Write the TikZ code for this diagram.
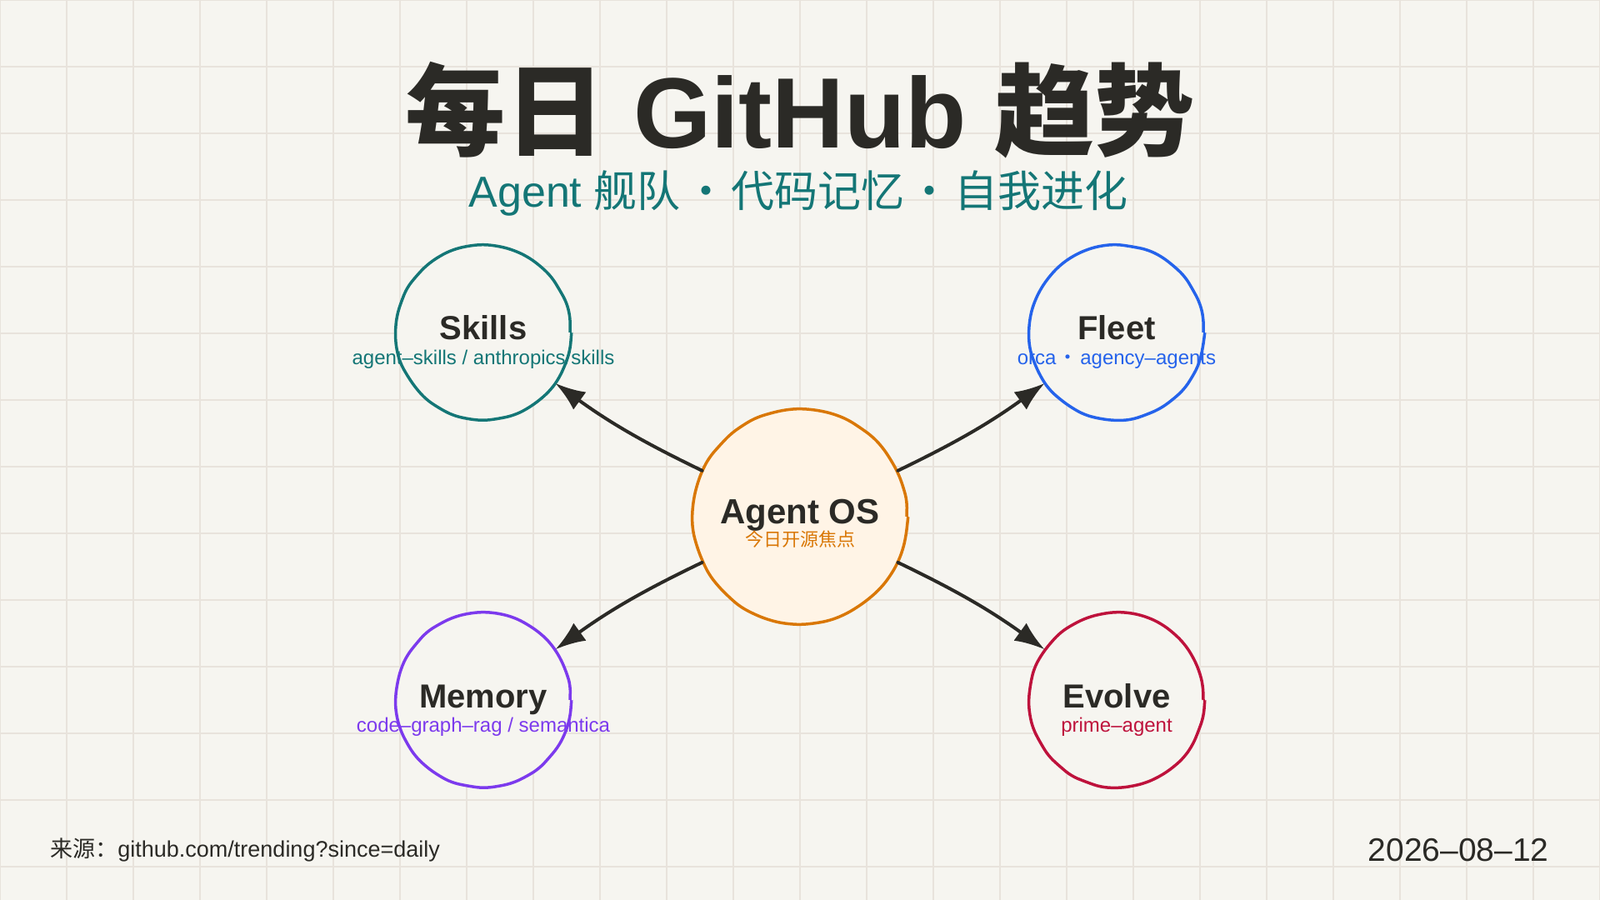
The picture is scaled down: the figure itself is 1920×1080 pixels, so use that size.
\documentclass[tikz,border=0pt]{standalone}
\usepackage{fontspec}
\setmainfont{Liberation Sans}
\newfontfamily\cjk{Noto Sans CJK SC}
\usetikzlibrary{arrows.meta,positioning,decorations.pathmorphing}
\definecolor{paper}{RGB}{246,245,240}
\definecolor{gridc}{RGB}{232,227,220}
\definecolor{ink}{RGB}{43,42,38}
\definecolor{cskill}{RGB}{20,118,118}
\definecolor{cfleet}{RGB}{37,99,235}
\definecolor{cmemory}{RGB}{124,58,237}
\definecolor{cevolve}{RGB}{190,18,60}
\definecolor{ccore}{RGB}{217,119,6}
\definecolor{ccream}{RGB}{255,244,230}
\newcommand{\fsz}[2]{\fontsize{#1}{#2}\selectfont}

\begin{document}
\begin{tikzpicture}[x=0.5pt,y=-0.5pt,
    hub/.style={circle, draw=#1, fill=paper, line width=1.75pt, minimum size=104pt, inner sep=0pt,
                decorate, decoration={random steps, segment length=9pt, amplitude=0.35pt}, rounded corners=4pt},
    ttl/.style={anchor=base, inner sep=0pt, text=ink, font=\bfseries\fsz{20pt}{24pt}},
    sub/.style={anchor=base, inner sep=0pt, text=#1, font=\fsz{12pt}{14pt}},
    link/.style={draw=ink, line width=2pt, line cap=round, -{Latex[length=18pt,width=13pt]}}]
  \useasboundingbox (0,0) rectangle (1920,1080);
  \fill[paper] (0,0) rectangle (1920,1080);
  % squared paper
  \foreach \gx in {0,80,...,1920}
    \draw[gridc, line width=1pt] (\gx,0) -- (\gx,1080);
  \foreach \gy in {0,80,...,1040}
    \draw[gridc, line width=1pt] (0,\gy) -- (1920,\gy);

  \node[anchor=base, inner sep=0pt, text=ink, font=\bfseries\fsz{60pt}{72pt}] (title) at (960,178)
       {{\cjk 每日} GitHub {\cjk 趋势}};
  \node[anchor=base, inner sep=0pt, text=cskill, font=\fsz{26pt}{32pt}] (subtitle) at (958,249)
       {Agent {\cjk 舰队\hspace{.08em}・\hspace{.08em}代码记忆\hspace{.08em}・\hspace{.08em}自我进化}};

  \node[hub=cskill] (skills) at (580,399) {};
  \node[hub=cfleet] (fleet) at (1340,399) {};
  \node[hub=cmemory] (memory) at (580,840) {};
  \node[hub=cevolve] (evolve) at (1340,840) {};
  \node[hub=ccore, fill=ccream, minimum size=128pt] (core) at (960,620) {};

  \node[ttl] (skillsT) at ([yshift=-4.5pt]skills.center) {Skills};
  \node[sub=cskill] (skillsS) at ([yshift=-19pt]skills.center) {agent–skills / anthropics/skills};
  \node[ttl] (fleetT) at ([yshift=-4.5pt]fleet.center) {Fleet};
  \node[sub=cfleet] (fleetS) at ([yshift=-19pt]fleet.center) {orca\hspace{.1em}{\cjk ・}\hspace{.1em}agency–agents};
  \node[ttl] (memoryT) at ([yshift=-4.5pt]memory.center) {Memory};
  \node[sub=cmemory] (memoryS) at ([yshift=-19pt]memory.center) {code–graph–rag / semantica};
  \node[ttl] (evolveT) at ([yshift=-4.5pt]evolve.center) {Evolve};
  \node[sub=cevolve] (evolveS) at ([yshift=-19pt]evolve.center) {prime–agent};
  \node[ttl, font=\bfseries\fsz{21pt}{25pt}] (coreT) at ([yshift=-4pt]core.center) {Agent OS};
  \node[sub=ccore, font=\cjk\fsz{11pt}{13pt}] (coreS) at ([yshift=-17.5pt]core.center) {今日开源焦点};

  \draw[link] (core) to[bend left=5] (skills);
  \draw[link] (core) to[bend right=5] (fleet);
  \draw[link] (core) to[bend right=5] (memory);
  \draw[link] (core) to[bend left=5] (evolve);

  \node[anchor=base west, inner sep=0pt, text=ink, font=\fsz{13.5pt}{16pt}] (source) at (60,1028)
       {{\cjk 来源：}github.com/trending?since=daily};
  \node[anchor=base east, inner sep=0pt, text=ink, font=\fsz{19.5pt}{23pt}] (date) at (1859,1033) {2026–08–12};
\end{tikzpicture}
\end{document}
